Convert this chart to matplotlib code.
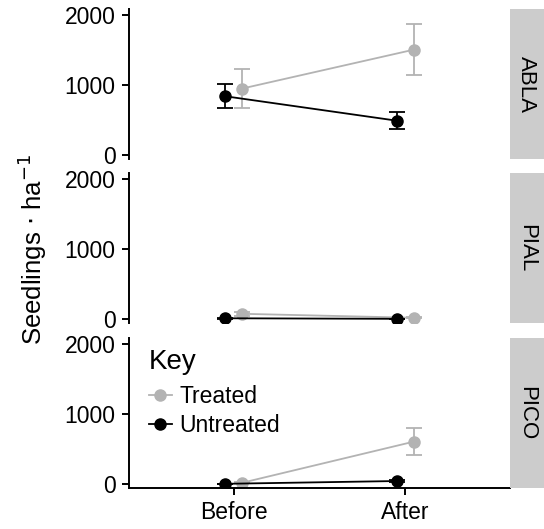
import numpy as np
import matplotlib.pyplot as plt
from matplotlib.lines import Line2D

plt.rcParams['font.family'] = ['Liberation Sans', 'DejaVu Sans']

# --- data ---
species = ['ABLA', 'PIAL', 'PICO']
periods = ['Before', 'After']

treated_mean = {'ABLA': [950, 1507], 'PIAL': [72, 15], 'PICO': [15, 604]}
treated_err = {'ABLA': [285, 362], 'PIAL': [25, 10], 'PICO': [10, 195]}
untreated_mean = {'ABLA': [840, 490], 'PIAL': [8, 0], 'PICO': [0, 40]}
untreated_err = {'ABLA': [170, 125], 'PIAL': [5, 0], 'PICO': [0, 15]}

grey = '#b3b3b3'
dodge = 0.05
x = np.arange(1, len(periods) + 1)

fig = plt.figure(figsize=(5.44, 5.29), dpi=100)

bottoms = [0.6994, 0.3894, 0.0775]
h = 150 / 529
left, width = 0.237, 0.700

axes = []
for i, sp in enumerate(species):
    ax = fig.add_axes([left, bottoms[i], width, h])
    axes.append(ax)
    ax.errorbar(x + dodge, treated_mean[sp], yerr=treated_err[sp], color=grey,
                marker='o', markersize=8, lw=1.3, capsize=6, capthick=1.3,
                elinewidth=1.3, zorder=2)
    ax.errorbar(x - dodge, untreated_mean[sp], yerr=untreated_err[sp], color='black',
                marker='o', markersize=8, lw=1.3, capsize=6, capthick=1.3,
                elinewidth=1.3, zorder=3)
    ax.set_xlim(0.39, 2.61)
    ax.set_ylim(-60, 2090)
    ax.set_yticks([0, 1000, 2000])
    for s in ['top', 'right']:
        ax.spines[s].set_visible(False)
    ax.spines['left'].set_linewidth(1.4)
    ax.spines['bottom'].set_linewidth(1.4)
    ax.tick_params(axis='both', labelsize=16.5, length=5, width=1.4, pad=4.5,
                   colors='black')
    if i < 2:
        ax.spines['bottom'].set_visible(False)
        ax.tick_params(axis='x', bottom=False, labelbottom=False)
    else:
        ax.set_xticks(x)
        ax.set_xticklabels(periods)

    # facet strip
    sax = fig.add_axes([left + width, bottoms[i], 1 - left - width, h])
    sax.set_facecolor('#cccccc')
    sax.set_xticks([])
    sax.set_yticks([])
    for s in sax.spines.values():
        s.set_visible(False)
    sax.text(0.5, 0.5, sp, rotation=-90, ha='center', va='center', fontsize=16,
             transform=sax.transAxes)

handles = [Line2D([], [], color=grey, marker='o', markersize=8, lw=1.3),
           Line2D([], [], color='black', marker='o', markersize=8, lw=1.3)]
leg = axes[2].legend(handles, ['Treated', 'Untreated'], title='Key',
                     loc='upper left', bbox_to_anchor=(0.052, 0.925),
                     frameon=False, fontsize=16.5, title_fontsize=20,
                     handlelength=1.0, handletextpad=0.35, labelspacing=0.25,
                     borderaxespad=0.0, borderpad=0.0)
leg._legend_box.align = 'left'
leg._legend_box.sep = 7

fig.text(0.059, 0.529, r'Seedlings $\cdot$ ha$^{-1}$', rotation=90, ha='center',
         va='center', fontsize=18.5)

fig.savefig('out.png', dpi=100)
